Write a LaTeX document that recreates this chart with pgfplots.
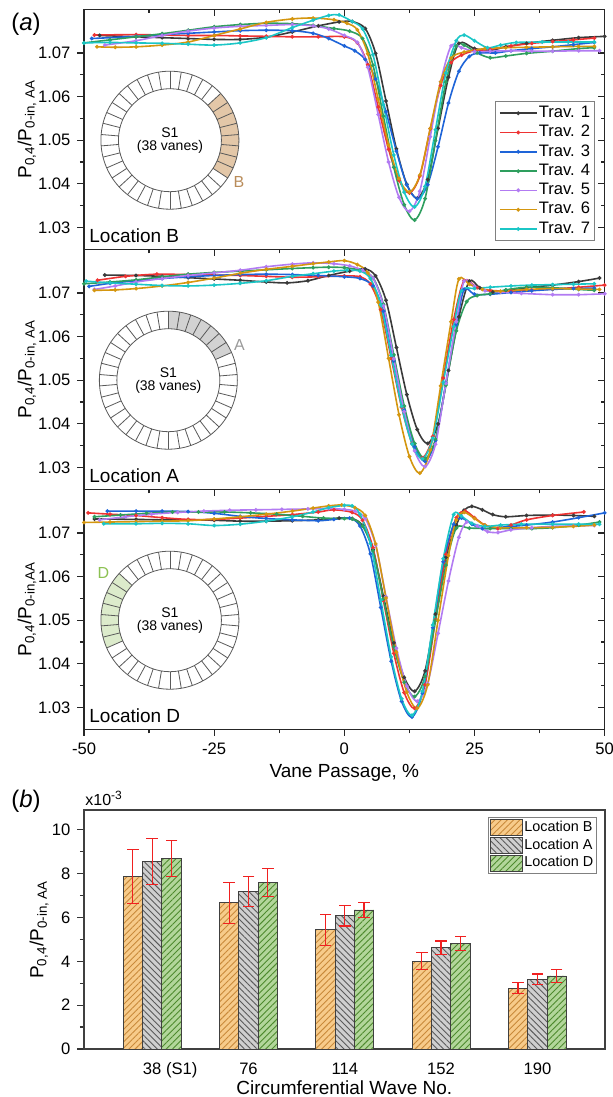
\documentclass[border=0pt]{standalone}
\usepackage{fontspec}
\setmainfont{Liberation Sans}
\usepackage{pgfplots}
\pgfplotsset{compat=1.18}
\usetikzlibrary{patterns.meta}

\definecolor{c1}{HTML}{3A3A3A}
\definecolor{c2}{HTML}{EE3333}
\definecolor{c3}{HTML}{1E64D8}
\definecolor{c4}{HTML}{2E9E5E}
\definecolor{c5}{HTML}{B27BF2}
\definecolor{c6}{HTML}{D4960F}
\definecolor{c7}{HTML}{1BC6C6}
\definecolor{Bfill}{HTML}{F7CB8A}
\definecolor{Bline}{HTML}{C8893A}
\definecolor{Afill}{HTML}{CFCFCF}
\definecolor{Aline}{HTML}{5A5A5A}
\definecolor{Dfill}{HTML}{B2D69A}
\definecolor{Dline}{HTML}{4E8A2E}
\definecolor{ringB}{HTML}{E3C7A8}
\definecolor{labB}{HTML}{B98C5A}
\definecolor{ringA}{HTML}{D2D2D2}
\definecolor{labA}{HTML}{9A9A9A}
\definecolor{ringD}{HTML}{DCEBCB}
\definecolor{labD}{HTML}{8CC152}
\definecolor{errred}{HTML}{F02020}

\newcommand{\fs}[1]{\fontsize{#1}{#1}\selectfont}

\pgfplotsset{
  tr/.style={color=#1, line width=0.8pt, mark=*, mark size=0.5pt, smooth},
  toppanel/.style={width=260.35pt, height=120pt, scale only axis,
    xmin=-50, xmax=50, ymin=1.025, ymax=1.08,
    xtick={-50,-25,0,25,50}, ytick={1.03,1.04,1.05,1.06,1.07},
    minor x tick num=1, minor y tick num=1,
    axis line style={line width=0.7pt, color=black!85},
    tick style={line width=0.6pt, color=black!85},
    major tick length=3.3pt, minor tick length=2pt,
    ticklabel style={font=\fs{8.3}},
    every axis y label/.style={at={(axis description cs:0,0.5)}, xshift=-28.5pt, rotate=90, anchor=center, font=\fs{9.5}},
    every axis x label/.style={at={(axis description cs:0.5,0)}, yshift=-22pt, anchor=center, font=\fs{9.5}},
  },
  outer/.style={tick align=outside, xtick pos=left, ytick pos=left},
  inner/.style={tick align=inside, xtick pos=right, ytick pos=right, xticklabels={}, yticklabels={}, axis line style={draw=none}},
  errs/.style={errred, line width=0.6pt, mark=-, mark size=2.9pt, mark options={solid, line width=0.6pt}, unbounded coords=jump, forget plot},
}

\newcommand{\ring}[5]{%
  \begin{scope}[shift={(#1)}]
    \fill[#4] (#2:34.5pt) arc[start angle=#2, end angle=#3, radius=34.5pt] -- (#3:25.75pt) arc[start angle=#3, end angle=#2, radius=25.75pt] -- cycle;
    \draw[black!65, line width=0.4pt] (0,0) circle[radius=34.5pt] (0,0) circle[radius=25.75pt];
    \foreach \k in {0,...,37} {\draw[black!65, line width=0.4pt] ({90+\k*360/38}:25.75pt) -- ({90+\k*360/38}:34.5pt);}
    \node[font=\fs{7}] at (0,4pt) {S1};
    \node[font=\fs{7}] at (0,-3.5pt) {(38 vanes)};
    #5
  \end{scope}}

\begin{document}
\begin{tikzpicture}
\useasboundingbox (0,0) rectangle (306.5pt,-548.5pt);

\node[font=\fs{12}] at (13pt,-12pt) {(\textit{a})};
\node[font=\fs{12}] at (13pt,-400.5pt) {(\textit{b})};

% ---------- Panel 1 : Location B ----------
\begin{axis}[toppanel, inner, at={(42pt,-4.65pt)}, anchor=north west]
\end{axis}
\begin{axis}[toppanel, outer, at={(42pt,-4.65pt)}, anchor=north west,
  xticklabels={}, yticklabels={1.03,1.04,1.05,1.06,1.07},
  ylabel={P\textsubscript{0,4}/P\textsubscript{0-in, AA}},
  legend cell align=left,
  legend style={at={(0.981,0.035)}, anchor=south east, font=\fs{8.3}, draw=black!50, line width=0.5pt,
    inner sep=1.5pt, row sep=1.2pt, nodes={inner sep=0.6pt}},
  legend image code/.code={\draw[mark repeat=2, mark phase=2, #1] plot coordinates {(0pt,0pt) (9.25pt,0pt) (18.5pt,0pt)};},
]
\addplot[tr=c1] coordinates {(-47,1.0740) (-40,1.0737) (-35,1.0735) (-30,1.0733) (-25,1.0731) (-20,1.0731) (-15,1.0736) (-10,1.0748) (-5,1.0762) (-1,1.0771) (1.5,1.0772) (4,1.0756) (6,1.0699) (8,1.0590) (10,1.0480) (12,1.0399) (14,1.0367) (16,1.0410) (18,1.0527) (20,1.0644) (22,1.0722) (25,1.0710) (28,1.0706) (31,1.0714) (35,1.0722) (40,1.0729) (45,1.0735) (50,1.0738)};
\addlegendentry{Trav. 1}
\addplot[tr=c2] coordinates {(-48,1.0741) (-40,1.0742) (-35,1.0741) (-30,1.0740) (-25,1.0740) (-20,1.0739) (-15,1.0738) (-10,1.0737) (-5,1.0737) (0,1.0737) (2.5,1.0723) (4.5,1.0673) (6.5,1.0576) (8.5,1.0479) (10.5,1.0408) (12.5,1.0379) (14.5,1.0418) (16.5,1.0526) (18.5,1.0625) (20.5,1.0678) (22.5,1.0695) (25,1.0705) (28,1.0708) (32,1.0716) (36,1.0722) (40,1.0726) (44,1.0730) (48,1.0734)};
\addlegendentry{Trav. 2}
\addplot[tr=c3] coordinates {(-48.5,1.0733) (-40,1.0738) (-35,1.0742) (-30,1.0745) (-25,1.0748) (-20,1.0751) (-15,1.0752) (-10,1.0751) (-6,1.0745) (-3,1.0733) (0,1.0716) (2,1.0705) (4,1.0685) (6,1.0640) (8,1.0565) (10,1.0475) (12,1.0398) (14,1.0366) (16,1.0398) (18,1.0485) (20,1.0585) (22,1.0658) (24,1.0692) (26,1.0700) (29,1.0700) (32,1.0705) (36,1.0710) (40,1.0714) (44,1.0719) (48,1.0724)};
\addlegendentry{Trav. 3}
\addplot[tr=c4] coordinates {(-50,1.0723) (-45,1.0730) (-40,1.0737) (-35,1.0744) (-30,1.0752) (-25,1.0760) (-20,1.0765) (-15,1.0768) (-10,1.0767) (-6,1.0763) (-2,1.0756) (1,1.0750) (3.5,1.0733) (5.5,1.0672) (7.5,1.0555) (9.5,1.0438) (11.5,1.0352) (13.5,1.0317) (15.5,1.0366) (17.5,1.0499) (19.5,1.0633) (21.5,1.0716) (23,1.0718) (25.5,1.0700) (28,1.0689) (31,1.0693) (35,1.0699) (40,1.0704) (45,1.0710) (48,1.0712)};
\addlegendentry{Trav. 4}
\addplot[tr=c5] coordinates {(-46,1.0718) (-40,1.0728) (-35,1.0740) (-30,1.0750) (-25,1.0757) (-20,1.0761) (-15,1.0763) (-10,1.0765) (-6,1.0762) (-3,1.0755) (0,1.0740) (2.5,1.0724) (4.5,1.0667) (6.5,1.0559) (8.5,1.0450) (10.5,1.0369) (12.5,1.0337) (14.5,1.0383) (16.5,1.0508) (18.5,1.0634) (20.5,1.0716) (22.5,1.0712) (25,1.0703) (28,1.0704) (32,1.0705) (36,1.0704) (40,1.0704) (45,1.0705) (49,1.0705)};
\addlegendentry{Trav. 5}
\addplot[tr=c6] coordinates {(-47.5,1.0714) (-44,1.0713) (-40,1.0714) (-35,1.0718) (-30,1.0725) (-25,1.0740) (-20,1.0755) (-15,1.0770) (-10,1.0778) (-6,1.0780) (-2,1.0776) (0.5,1.0768) (2.5,1.0753) (4.5,1.0698) (6.5,1.0594) (8.5,1.0489) (10.5,1.0412) (12.5,1.0381) (14.5,1.0420) (16.5,1.0527) (18.5,1.0634) (20.5,1.0688) (23,1.0702) (27,1.0710) (31,1.0712) (35,1.0713) (40,1.0714) (45,1.0715) (48,1.0715)};
\addlegendentry{Trav. 6}
\addplot[tr=c7] coordinates {(-50,1.0723) (-45,1.0724) (-40,1.0723) (-35,1.0722) (-30,1.0720) (-25,1.0718) (-20,1.0723) (-15,1.0735) (-10,1.0758) (-6,1.0775) (-3,1.0786) (-1,1.0787) (1.5,1.0772) (3.5,1.0755) (5.5,1.0696) (7.5,1.0581) (9.5,1.0466) (11.5,1.0381) (13.5,1.0347) (15.5,1.0394) (17.5,1.0524) (19.5,1.0654) (21.5,1.0728) (23,1.0741) (25,1.0728) (27.5,1.0712) (30,1.0718) (33,1.0724) (38,1.0725) (43,1.0725) (48,1.0725)};
\addlegendentry{Trav. 7}
\coordinate (cB) at (axis cs:-33.5,1.050);
\node[anchor=base west, inner sep=0, font=\fs{9.5}] at ([xshift=2.5pt,yshift=3.5pt]rel axis cs:0,0) {Location B};
\end{axis}
\ring{cB}{-33.158}{42.632}{ringB}{\node[font=\fs{8}, text=labB] at (34.5pt,-21pt) {B};}

% ---------- Panel 2 : Location A ----------
\begin{axis}[toppanel, inner, at={(42pt,-124.65pt)}, anchor=north west]
\end{axis}
\begin{axis}[toppanel, outer, at={(42pt,-124.65pt)}, anchor=north west,
  xticklabels={}, yticklabels={1.03,1.04,1.05,1.06,1.07},
  ylabel={P\textsubscript{0,4}/P\textsubscript{0-in, AA}},
]
\addplot[tr=c1] coordinates {(-46,1.0741) (-40,1.0740) (-35,1.0738) (-30,1.0735) (-25,1.0732) (-20,1.0729) (-15,1.0725) (-11,1.0723) (-7,1.0728) (-3,1.0740) (1,1.0750) (4,1.0755) (6,1.0739) (8,1.0683) (10,1.0575) (12,1.0467) (14,1.0387) (16,1.0355) (18,1.0400) (20,1.0522) (22,1.0645) (24,1.0727) (26,1.0712) (28.5,1.0702) (31,1.0706) (35,1.0712) (40,1.0718) (45,1.0726) (49,1.0734)};
\addplot[tr=c2] coordinates {(-47.4,1.0729) (-42,1.0738) (-36,1.0743) (-30,1.0742) (-25,1.0741) (-20,1.0740) (-15,1.0738) (-10,1.0736) (-5,1.0737) (0,1.0739) (3,1.0737) (5,1.0720) (7,1.0662) (9,1.0550) (11,1.0438) (13,1.0355) (15,1.0322) (17,1.0371) (19,1.0505) (21,1.0639) (23,1.0728) (25.5,1.0712) (28,1.0706) (32,1.0704) (36,1.0706) (40,1.0709) (45,1.0713) (50,1.0718)};
\addplot[tr=c3] coordinates {(-49,1.0715) (-45,1.0722) (-40,1.0728) (-35,1.0733) (-30,1.0737) (-25,1.0740) (-20,1.0742) (-15,1.0743) (-10,1.0742) (-5,1.0740) (0,1.0737) (3,1.0733) (5.5,1.0716) (7.5,1.0658) (9.5,1.0544) (11.5,1.0431) (13.5,1.0348) (15.5,1.0314) (17.5,1.0362) (19.5,1.0494) (21.5,1.0627) (23,1.0708) (25,1.0697) (28,1.0697) (32,1.0701) (36,1.0705) (40,1.0708) (44,1.0710) (48,1.0711)};
\addplot[tr=c4] coordinates {(-50,1.0721) (-45,1.0725) (-40,1.0730) (-35,1.0737) (-30,1.0743) (-25,1.0747) (-20,1.0750) (-15,1.0753) (-10,1.0756) (-6,1.0758) (-3,1.0759) (0,1.0758) (3,1.0752) (5.5,1.0735) (7.5,1.0674) (9.5,1.0558) (11.5,1.0441) (13.5,1.0355) (15.5,1.0320) (17.5,1.0365) (19.5,1.0489) (21.5,1.0613) (23.5,1.0680) (25.5,1.0694) (28,1.0698) (31,1.0707) (35,1.0713) (40,1.0712) (45,1.0708) (48,1.0706)};
\addplot[tr=c5] coordinates {(-48,1.0708) (-44,1.0716) (-40,1.0725) (-35,1.0733) (-30,1.0740) (-25,1.0746) (-20,1.0752) (-15,1.0760) (-10,1.0766) (-6,1.0769) (-2,1.0767) (1,1.0762) (3.5,1.0752) (5.5,1.0734) (7.5,1.0671) (9.5,1.0549) (11.5,1.0428) (13.5,1.0338) (15.5,1.0302) (17.5,1.0353) (19.5,1.0493) (21.5,1.0634) (23,1.0727) (25,1.0715) (27,1.0705) (30,1.0702) (34,1.0699) (40,1.0696) (45,1.0696) (50,1.0698)};
\addplot[tr=c6] coordinates {(-48,1.0706) (-44,1.0707) (-40,1.0710) (-35,1.0716) (-30,1.0724) (-25,1.0734) (-20,1.0745) (-15,1.0754) (-10,1.0761) (-6,1.0767) (-3,1.0771) (0,1.0774) (2.5,1.0765) (4.5,1.0746) (6.5,1.0679) (8.5,1.0550) (10.5,1.0421) (12.5,1.0325) (14.5,1.0287) (16.5,1.0340) (18.5,1.0487) (20.5,1.0634) (22,1.0732) (24,1.0720) (26.5,1.0708) (30,1.0704) (35,1.0708) (40,1.0710) (45,1.0709) (49,1.0708)};
\addplot[tr=c7] coordinates {(-49.6,1.0727) (-45,1.0723) (-40,1.0720) (-35,1.0717) (-30,1.0716) (-25,1.0718) (-20,1.0722) (-15,1.0728) (-10,1.0738) (-6,1.0744) (-2,1.0750) (0.5,1.0752) (3,1.0750) (5,1.0733) (7,1.0673) (9,1.0557) (11,1.0440) (13,1.0354) (15,1.0320) (17,1.0367) (19,1.0495) (21,1.0623) (22.5,1.0705) (25,1.0710) (28,1.0713) (32,1.0716) (36,1.0718) (40,1.0719) (44,1.0720) (48,1.0721)};
\coordinate (cA) at (axis cs:-33.8,1.050);
\node[anchor=base west, inner sep=0, font=\fs{9.5}] at ([xshift=2.5pt,yshift=3.5pt]rel axis cs:0,0) {Location A};
\end{axis}
\ring{cA}{23.684}{90}{ringA}{\node[font=\fs{8}, text=labA] at (35.5pt,17.8pt) {A};}

% ---------- Panel 3 : Location D ----------
\begin{axis}[toppanel, inner, at={(42pt,-244.65pt)}, anchor=north west]
\end{axis}
\begin{axis}[toppanel, outer, at={(42pt,-244.65pt)}, anchor=north west,
  xticklabels={-50,-25,0,25,50}, yticklabels={1.03,1.04,1.05,1.06,1.07},
  ylabel={P\textsubscript{0,4}/P\textsubscript{0-in,AA}},
  xlabel={Vane Passage, \%},
]
\addplot[tr=c1] coordinates {(-48,1.0732) (-40,1.0731) (-35,1.0730) (-30,1.0730) (-25,1.0729) (-20,1.0727) (-15,1.0727) (-10,1.0728) (-5,1.0730) (-1,1.0734) (1.5,1.0733) (3.5,1.0717) (5.5,1.0662) (7.5,1.0555) (9.5,1.0448) (11.5,1.0369) (13.5,1.0337) (15.5,1.0384) (17.5,1.0514) (19.5,1.0644) (21.5,1.0718) (23,1.0752) (24.5,1.0761) (26.5,1.0753) (28.5,1.0742) (31,1.0737) (35,1.0740) (40,1.0741) (44,1.0740) (48,1.0738)};
\addplot[tr=c2] coordinates {(-49.2,1.0746) (-45,1.0743) (-40,1.0740) (-35,1.0735) (-30,1.0731) (-25,1.0731) (-20,1.0734) (-15,1.0738) (-10,1.0742) (-5,1.0748) (-2,1.0753) (1.5,1.0747) (3.5,1.0729) (5.5,1.0666) (7.5,1.0545) (9.5,1.0424) (11.5,1.0334) (13.5,1.0298) (15.5,1.0352) (17.5,1.0501) (19.5,1.0651) (21.5,1.0735) (23.2,1.0750) (25,1.0735) (27,1.0718) (29.5,1.0710) (32,1.0718) (35,1.0730) (40,1.0740) (46,1.0748)};
\addplot[tr=c3] coordinates {(-45.5,1.0750) (-40,1.0750) (-35,1.0750) (-30,1.0749) (-25,1.0745) (-20,1.0738) (-15,1.0733) (-10,1.0730) (-5,1.0728) (-2,1.0731) (1,1.0734) (3,1.0716) (5,1.0652) (7,1.0529) (9,1.0406) (11,1.0314) (13,1.0278) (15,1.0333) (17,1.0483) (19,1.0634) (21,1.0720) (22.5,1.0734) (24.5,1.0720) (26.5,1.0710) (30,1.0713) (35,1.0718) (40,1.0725) (45,1.0735) (50,1.0746)};
\addplot[tr=c4] coordinates {(-48,1.0737) (-43,1.0741) (-38,1.0745) (-33,1.0748) (-28,1.0748) (-23,1.0748) (-18,1.0746) (-13,1.0743) (-8,1.0738) (-4,1.0734) (0,1.0733) (1.5,1.0732) (3.5,1.0716) (5.5,1.0659) (7.5,1.0549) (9.5,1.0439) (11.5,1.0358) (13.5,1.0325) (15.5,1.0371) (17.5,1.0499) (19.5,1.0626) (21.5,1.0711) (24,1.0711) (28,1.0710) (32,1.0710) (36,1.0710) (40,1.0712) (45,1.0718) (49,1.0725)};
\addplot[tr=c5] coordinates {(-47,1.0730) (-42,1.0737) (-37,1.0743) (-32,1.0747) (-27,1.0750) (-22,1.0752) (-17,1.0753) (-12,1.0754) (-7,1.0755) (-3,1.0756) (0,1.0754) (2,1.0750) (4,1.0733) (6,1.0672) (8,1.0554) (10,1.0436) (12,1.0349) (14,1.0314) (16,1.0355) (18,1.0470) (20,1.0590) (22,1.0690) (23.5,1.0725) (25.5,1.0716) (27.5,1.0703) (29.5,1.0701) (32,1.0707) (36,1.0712) (40,1.0715) (44,1.0716) (48,1.0717)};
\addplot[tr=c6] coordinates {(-50,1.0724) (-45,1.0725) (-40,1.0726) (-35,1.0727) (-30,1.0728) (-25,1.0732) (-20,1.0737) (-15,1.0743) (-10,1.0750) (-6,1.0757) (-3,1.0762) (-0.5,1.0764) (2,1.0758) (4,1.0740) (6,1.0675) (8,1.0551) (10,1.0427) (12,1.0335) (14,1.0298) (16,1.0352) (18,1.0500) (20,1.0648) (21.5,1.0730) (23,1.0747) (25,1.0733) (27,1.0718) (30,1.0712) (35,1.0712) (40,1.0713) (44,1.0715) (48,1.0718)};
\addplot[tr=c7] coordinates {(-46.2,1.0721) (-40,1.0721) (-35,1.0722) (-30,1.0721) (-25,1.0717) (-20,1.0720) (-15,1.0727) (-10,1.0737) (-6,1.0748) (-3,1.0758) (0,1.0763) (1.5,1.0762) (3,1.0743) (5,1.0676) (7,1.0546) (9,1.0416) (11,1.0320) (13,1.0282) (15,1.0337) (17,1.0489) (19,1.0641) (21,1.0742) (22.5,1.0738) (24.5,1.0722) (27,1.0715) (30,1.0718) (34,1.0720) (40,1.0720) (45,1.0720) (49,1.0720)};
\coordinate (cD) at (axis cs:-33.5,1.050);
\node[anchor=base west, inner sep=0, font=\fs{9.5}] at ([xshift=2.5pt,yshift=3.5pt]rel axis cs:0,0) {Location D};
\end{axis}
\ring{cD}{137.368}{203.684}{ringD}{\node[font=\fs{8}, text=labD] at (-33.3pt,23.75pt) {D};}

% ---------- Panel b ----------
\begin{axis}[at={(42pt,-405pt)}, anchor=north west,
  width=260.35pt, height=119.5pt, scale only axis,
  xmin=-0.708, xmax=4.699, ymin=0, ymax=10.9,
  xtick={0,1,2,3,4}, xticklabels={38\rlap{\ (S1)},76,114,152,190},
  x tick style={draw=none},
  ytick={0,2,4,6,8,10}, yticklabels={0,2,4,6,8,10},
  minor y tick num=1, ytick pos=left, tick align=outside,
  major tick length=3.3pt, minor tick length=2pt,
  y tick style={line width=0.6pt, color=black!80},
  axis line style={line width=1pt, color=black!75},
  ticklabel style={font=\fs{8.3}},
  every axis y label/.style={at={(axis description cs:0,0.5)}, xshift=-22.5pt, rotate=90, anchor=center, font=\fs{9.5}},
  every axis x label/.style={at={(axis description cs:0.5,0)}, yshift=-19.5pt, anchor=center, font=\fs{9.5}},
  ylabel={P\textsubscript{0,4}/P\textsubscript{0-in, AA}},
  xlabel={Circumferential Wave No.},
  legend cell align=left,
  legend style={at={(0.986,0.972)}, anchor=north east, font=\fs{7.2}, draw=black!50, line width=0.5pt,
    inner sep=1pt, row sep=0.6pt, nodes={inner sep=0.8pt}},
  legend image code/.code={\draw[#1] (0pt,-3.9pt) rectangle (16pt,3.9pt);},
]
\addplot[ybar, bar width=9.65pt, bar shift=-9.65pt, fill=Bfill, draw=black!75, line width=0.4pt, postaction={pattern={Lines[angle=45,distance=2.2pt,line width=0.45pt]}, pattern color=Bline}]
  coordinates {(0,7.88) (1,6.67) (2,5.44) (3,4.01) (4,2.78)};
\addlegendentry{Location B}
\addplot[ybar, bar width=9.65pt, bar shift=0pt, fill=Afill, draw=black!75, line width=0.4pt, postaction={pattern={Lines[angle=-45,distance=2.2pt,line width=0.45pt]}, pattern color=Aline}]
  coordinates {(0,8.55) (1,7.19) (2,6.08) (3,4.62) (4,3.19)};
\addlegendentry{Location A}
\addplot[ybar, bar width=9.65pt, bar shift=9.65pt, fill=Dfill, draw=black!75, line width=0.4pt, postaction={pattern={Lines[angle=45,distance=2.2pt,line width=0.45pt]}, pattern color=Dline}]
  coordinates {(0,8.70) (1,7.59) (2,6.34) (3,4.81) (4,3.33)};
\addlegendentry{Location D}
% error bars (mean -/+ deviation), B / A / D
\addplot[errs] coordinates {(-0.2004,6.65) (-0.2004,9.11) (0.3,nan) (0.7996,5.74) (0.7996,7.60) (1.3,nan) (1.7996,4.73) (1.7996,6.15) (2.3,nan) (2.7996,3.63) (2.7996,4.39) (3.3,nan) (3.7996,2.53) (3.7996,3.03)};
\addplot[errs] coordinates {(0,7.51) (0,9.59) (0.5,nan) (1,6.50) (1,7.88) (1.5,nan) (2,5.61) (2,6.55) (2.5,nan) (3,4.31) (3,4.93) (3.5,nan) (4,2.96) (4,3.42)};
\addplot[errs] coordinates {(0.2004,7.88) (0.2004,9.52) (0.7,nan) (1.2004,6.96) (1.2004,8.22) (1.7,nan) (2.2004,6.00) (2.2004,6.68) (2.7,nan) (3.2004,4.48) (3.2004,5.14) (3.7,nan) (4.2004,3.05) (4.2004,3.61)};
\coordinate (bTL) at (rel axis cs:0,1);
\end{axis}
\node[anchor=south west, inner sep=0.5pt, font=\fs{8}] at ([yshift=1.5pt]bTL) {x10\textsuperscript{-3}};
\end{tikzpicture}
\end{document}
